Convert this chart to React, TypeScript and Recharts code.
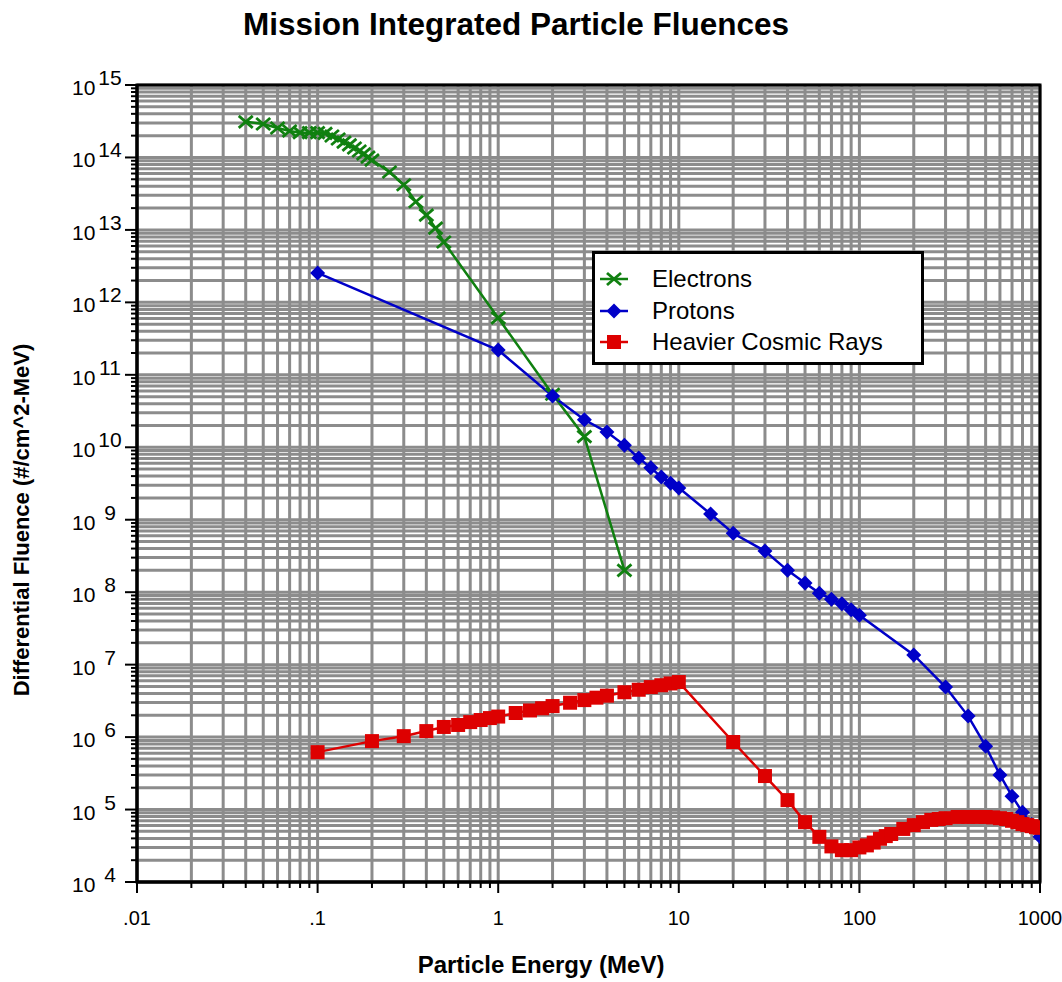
import React from "react";
import { LineChart, Line, XAxis, YAxis, CartesianGrid, Legend, ReferenceArea } from "recharts";

// values
const electronEnergy = [0.04, 0.05, 0.06, 0.07, 0.08, 0.09, 0.1, 0.11, 0.12, 0.13, 0.14, 0.15, 0.16, 0.17, 0.18, 0.19, 0.2, 0.25, 0.3, 0.35, 0.4, 0.45, 0.5, 1, 2, 3, 5];
const electronFluence = [3.1e14, 2.9e14, 2.55e14, 2.32e14, 2.2e14, 2.2e14, 2.2e14, 2.15e14, 1.98e14, 1.8e14, 1.63e14, 1.49e14, 1.35e14, 1.23e14, 1.12e14, 1.01e14, 9.2e13, 6.3e13, 4.2e13, 2.45e13, 1.6e13, 1.06e13, 6.8e12, 6.1e11, 5.4e10, 1.4e10, 2.0e8];

const protonEnergy = [0.1, 1, 2, 3, 4, 5, 6, 7, 8, 9, 10, 15, 20, 30, 40, 50, 60, 70, 80, 90, 100, 200, 300, 400, 500, 600, 700, 800, 900, 1000];
const protonFluence = [2.55e12, 2.2e11, 5.1e10, 2.4e10, 1.62e10, 1.07e10, 7.1e9, 5.2e9, 3.9e9, 3.2e9, 2.75e9, 1.2e9, 6.5e8, 3.7e8, 2.0e8, 1.34e8, 9.7e7, 8.0e7, 6.9e7, 5.7e7, 4.8e7, 1.36e7, 4.9e6, 1.95e6, 7.5e5, 3.0e5, 1.53e5, 9.2e4, 6.2e4, 4.2e4];

const heavyEnergy = [0.1, 0.2, 0.3, 0.4, 0.5, 0.6, 0.7, 0.8, 0.9, 1, 1.25, 1.5, 1.75, 2, 2.5, 3, 3.5, 4, 5, 6, 7, 8, 9, 10, 20, 30, 40, 50, 60, 70, 80, 90, 100, 110, 120, 130, 140, 150, 175, 200, 225, 250, 275, 300, 350, 400, 450, 500, 550, 600, 650, 700, 750, 800, 850, 900, 950, 1000];
const heavyFluence = [6.2e5, 8.8e5, 1.03e6, 1.21e6, 1.38e6, 1.47e6, 1.61e6, 1.72e6, 1.83e6, 1.92e6, 2.15e6, 2.33e6, 2.5e6, 2.68e6, 2.98e6, 3.24e6, 3.5e6, 3.73e6, 4.16e6, 4.5e6, 4.9e6, 5.2e6, 5.5e6, 5.75e6, 8.55e5, 2.9e5, 1.35e5, 6.7e4, 4.2e4, 3.1e4, 2.75e4, 2.75e4, 3.0e4, 3.2e4, 3.5e4, 3.95e4, 4.3e4, 4.6e4, 5.4e4, 6.1e4, 6.7e4, 7.2e4, 7.4e4, 7.6e4, 7.9e4, 7.9e4, 7.9e4, 7.9e4, 7.8e4, 7.6e4, 7.4e4, 7.0e4, 6.7e4, 6.3e4, 6.1e4, 5.9e4, 5.7e4, 5.6e4];

const xDecades = [0.01, 0.1, 1, 10, 100, 1000];
const xTickLabels = [".01", ".1", "1", "10", "100", "1000"];
const yExponents = [4, 5, 6, 7, 8, 9, 10, 11, 12, 13, 14, 15];
const minorSteps = [2, 3, 4, 5, 6, 7, 8, 9];

const GREEN = "#108010";
const BLUE = "#0000c8";
const RED = "#dd0000";
const FONT = "'Liberation Sans', Arial, Helvetica, sans-serif";

const pairs = (xs: number[], ys: number[]) => xs.map((e, i) => ({ e, f: ys[i] }));
const electrons = pairs(electronEnergy, electronFluence);
const protons = pairs(protonEnergy, protonFluence);
const heavy = pairs(heavyEnergy, heavyFluence);

const withMinors = (decades: number[]) => {
  const out: number[] = [];
  decades.forEach((d, i) => {
    out.push(d);
    if (i < decades.length - 1) minorSteps.forEach((m) => out.push(m * d));
  });
  return out;
};
const xTicks = withMinors(xDecades);
const yTicks = withMinors(yExponents.map((k) => Math.pow(10, k)));

const isDecade = (v: number) => {
  const lg = Math.log10(v);
  return Math.abs(lg - Math.round(lg)) < 1e-6;
};

function XTick(props: any) {
  const { x, y, payload } = props;
  const v = payload.value;
  const major = isDecade(v);
  const idx = xDecades.findIndex((d) => Math.abs(Math.log10(d) - Math.log10(v)) < 1e-6);
  return (
    <g>
      <line x1={x} x2={x} y1={y} y2={y + (major ? 11 : 6)} stroke="#000" strokeWidth={2} />
      {major && idx >= 0 && (
        <text x={x} y={y + 43} textAnchor="middle" fontFamily={FONT} fontSize={20} fill="#000">
          {xTickLabels[idx]}
        </text>
      )}
    </g>
  );
}

function YTick(props: any) {
  const { x, y, payload } = props;
  const v = payload.value;
  const major = isDecade(v);
  const exp = Math.round(Math.log10(v));
  return (
    <g>
      <line x1={x - (major ? 12 : 6)} x2={x} y1={y} y2={y} stroke="#000" strokeWidth={2} />
      {major && (
        <>
          <text x={x - 65} y={y + 10} fontFamily={FONT} fontSize={21} fill="#000">10</text>
          <text x={x - 27} y={y} textAnchor="middle" fontFamily={FONT} fontSize={21} fill="#000">{exp}</text>
        </>
      )}
    </g>
  );
}

const crossDot = (p: any) => (
  <g key={`e${p.index}`}>
    <line x1={p.cx - 7} y1={p.cy - 6} x2={p.cx + 7} y2={p.cy + 6} stroke={GREEN} strokeWidth={2.8} />
    <line x1={p.cx - 7} y1={p.cy + 6} x2={p.cx + 7} y2={p.cy - 6} stroke={GREEN} strokeWidth={2.8} />
  </g>
);
const diamondDot = (p: any) => (
  <path key={`p${p.index}`} d={`M${p.cx},${p.cy - 7.5}L${p.cx + 7.5},${p.cy}L${p.cx},${p.cy + 7.5}L${p.cx - 7.5},${p.cy}Z`} fill={BLUE} />
);
const squareDot = (p: any) => (
  <rect key={`h${p.index}`} x={p.cx - 7} y={p.cy - 7} width={14} height={14} fill={RED} />
);

const legendItems = [
  { name: "Electrons", color: GREEN, kind: "cross" },
  { name: "Protons", color: BLUE, kind: "diamond" },
  { name: "Heavier Cosmic Rays", color: RED, kind: "square" },
];

function LegendBox() {
  return (
    <div style={{ width: 326, height: 108, border: "3px solid #000", background: "#fff", boxSizing: "content-box", position: "relative" }}>
      {legendItems.map((it, i) => {
        const cy = 25 + i * 31.5;
        return (
          <div key={it.name} style={{ position: "absolute", left: 0, top: cy - 14, height: 28, display: "flex", alignItems: "center" }}>
            <svg width={50} height={28} style={{ display: "block" }}>
              <line x1={5} x2={33} y1={14} y2={14} stroke={it.color} strokeWidth={2.5} />
              {it.kind === "cross" && (
                <>
                  <line x1={12} y1={8} x2={26} y2={20} stroke={it.color} strokeWidth={2.8} />
                  <line x1={12} y1={20} x2={26} y2={8} stroke={it.color} strokeWidth={2.8} />
                </>
              )}
              {it.kind === "diamond" && <path d="M19,6.5L26.5,14L19,21.5L11.5,14Z" fill={it.color} />}
              {it.kind === "square" && <rect x={12} y={7} width={14} height={14} fill={it.color} />}
            </svg>
            <span style={{ marginLeft: 7, fontFamily: FONT, fontSize: 24, color: "#000", whiteSpace: "nowrap" }}>{it.name}</span>
          </div>
        );
      })}
    </div>
  );
}

export default function App() {
  return (
    <div style={{ position: "absolute", left: 0, top: 0, width: 1062, height: 982, background: "#fff" }}>
      <div style={{ position: "absolute", left: 0, top: 6, width: 1032, textAlign: "center", fontFamily: FONT, fontWeight: "bold", fontSize: 31.5, lineHeight: "36px" }}>
        Mission Integrated Particle Fluences
      </div>
      <LineChart width={1062} height={982} margin={{ top: 85, right: 22, bottom: 40, left: 57 }}>
        <CartesianGrid stroke="#8c8c8c" strokeWidth={3} />
        <XAxis
          type="number"
          dataKey="e"
          scale="log"
          domain={[0.01, 1000]}
          allowDataOverflow
          ticks={xTicks}
          interval={0}
          tick={<XTick />}
          tickLine={false}
          tickSize={0}
          tickMargin={0}
          height={60}
          axisLine={{ stroke: "#000", strokeWidth: 3 }}
        />
        <YAxis
          type="number"
          dataKey="f"
          scale="log"
          domain={[1e4, 1e15]}
          allowDataOverflow
          ticks={yTicks}
          interval={0}
          tick={<YTick />}
          tickLine={false}
          tickSize={0}
          tickMargin={0}
          width={80}
          axisLine={{ stroke: "#000", strokeWidth: 3 }}
        />
        <ReferenceArea x1={0.01} x2={1000} y1={1e4} y2={1e15} fill="none" stroke="#000" strokeWidth={3} ifOverflow="visible" />
        <Line data={electrons} dataKey="f" name="Electrons" stroke={GREEN} strokeWidth={2.5} dot={crossDot} isAnimationActive={false} />
        <Line data={protons} dataKey="f" name="Protons" stroke={BLUE} strokeWidth={2.5} dot={diamondDot} isAnimationActive={false} />
        <Line data={heavy} dataKey="f" name="Heavier Cosmic Rays" stroke={RED} strokeWidth={2.5} dot={squareDot} isAnimationActive={false} />
        <Legend layout="vertical" align="center" verticalAlign="middle" content={<LegendBox />} wrapperStyle={{ left: 592, top: 251, width: 332, height: 114 }} />
      </LineChart>
      <div style={{ position: "absolute", left: 291, top: 951, width: 500, textAlign: "center", fontFamily: FONT, fontWeight: "bold", fontSize: 24, lineHeight: "28px" }}>
        Particle Energy (MeV)
      </div>
      <div style={{ position: "absolute", left: 22 - 300, top: 520 - 13, width: 600, height: 26, textAlign: "center", fontFamily: FONT, fontWeight: "bold", fontSize: 22, lineHeight: "26px", transform: "rotate(-90deg)", transformOrigin: "50% 50%" }}>
        Differential Fluence (#/cm^2-MeV)
      </div>
    </div>
  );
}
